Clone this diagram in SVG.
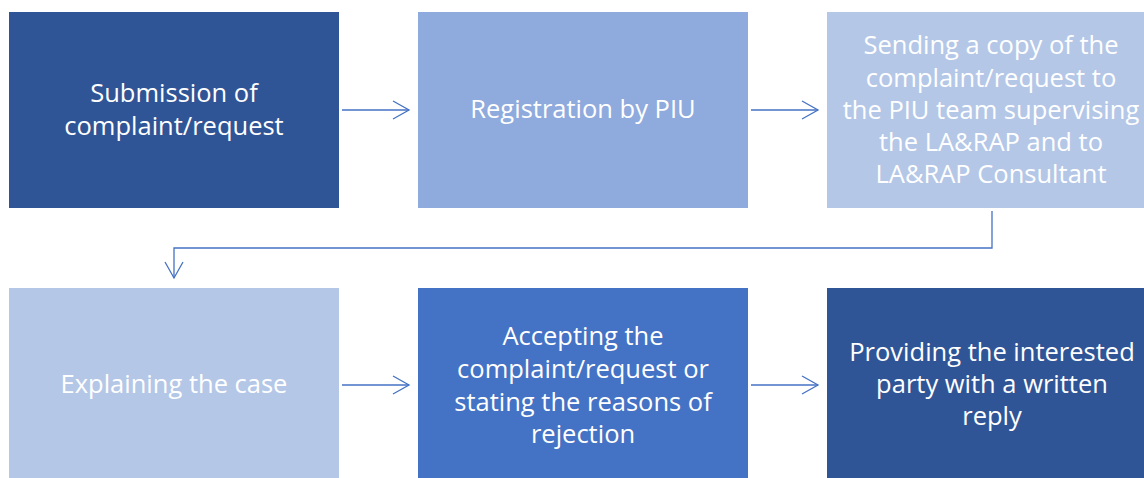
<svg xmlns="http://www.w3.org/2000/svg" width="1144" height="478" viewBox="0 0 1144 478">
<defs>
<style>
.t{font-family:"Open Sans","Liberation Sans",Arial,sans-serif;font-size:25.5px;fill:#fff;text-anchor:middle}
.c{fill:none;stroke:#4472C4;stroke-width:1.3}
</style>
<marker id="ah" viewBox="0 0 20 20" refX="18" refY="10" markerWidth="20" markerHeight="20" markerUnits="userSpaceOnUse" orient="auto">
<path d="M2,1 L18,10 L2,19" fill="none" stroke="#4472C4" stroke-width="1.3"/>
</marker>
</defs>
<rect width="1144" height="478" fill="#fff"/>
<g id="n1"><rect x="9" y="12" width="330" height="196" fill="#2F5597"/>
<text class="t" x="174"><tspan x="174" y="102">Submission of</tspan><tspan x="174" y="135">complaint/request</tspan></text></g>
<g id="n2"><rect x="418" y="12" width="330" height="196" fill="#8FAADC"/>
<text class="t" x="583" y="118">Registration by PIU</text></g>
<g id="n3"><rect x="827" y="12" width="317" height="196" fill="#B4C7E7"/>
<text class="t"><tspan x="991" y="54">Sending a copy of the</tspan><tspan x="991" y="87">complaint/request to</tspan><tspan x="991" y="119">the PIU team supervising</tspan><tspan x="991" y="151">the LA&amp;RAP and to</tspan><tspan x="991" y="183">LA&amp;RAP Consultant</tspan></text></g>
<g id="n4"><rect x="9" y="288" width="330" height="190" fill="#B4C7E7"/>
<text class="t" x="174" y="393">Explaining the case</text></g>
<g id="n5"><rect x="418" y="288" width="330" height="190" fill="#4472C4"/>
<text class="t"><tspan x="583" y="345">Accepting the</tspan><tspan x="583" y="378">complaint/request or</tspan><tspan x="583" y="411">stating the reasons of</tspan><tspan x="583" y="443">rejection</tspan></text></g>
<g id="n6"><rect x="827" y="288" width="317" height="190" fill="#2F5597"/>
<text class="t"><tspan x="992" y="361">Providing the interested</tspan><tspan x="992" y="393">party with a written</tspan><tspan x="992" y="425">reply</tspan></text></g>
<g id="connectors">
<path class="c" d="M342,110 L409,110" marker-end="url(#ah)"/>
<path class="c" d="M751,110 L818,110" marker-end="url(#ah)"/>
<path class="c" d="M992,211 L992,248 L174,248 L174,278" marker-end="url(#ah)"/>
<path class="c" d="M342,385 L409,385" marker-end="url(#ah)"/>
<path class="c" d="M751,385 L818,385" marker-end="url(#ah)"/>
</g>
</svg>
